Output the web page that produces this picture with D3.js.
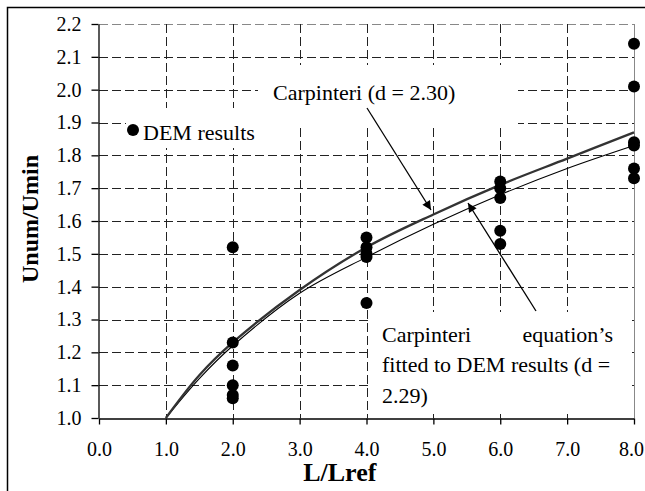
<!DOCTYPE html>
<html>
<head>
<meta charset="utf-8">
<script src="https://cdn.jsdelivr.net/npm/d3@7"></script>
<style>
  body { margin: 0; background: #fff; }
  svg, svg text { font-family: "Liberation Serif", Tinos, "Times New Roman", Times, "Noto Serif", "DejaVu Serif", serif; }
</style>
</head>
<body>
<div id="chart"></div>
<script>
// DEM results, grouped by L/Lref
var demX = [2, 2, 2, 2, 2, 2, 4, 4, 4, 4, 4, 6, 6, 6, 6, 6, 8, 8, 8, 8, 8, 8];
var demY = [1.52, 1.23, 1.16, 1.10, 1.07, 1.06,
            1.55, 1.52, 1.50, 1.49, 1.35,
            1.72, 1.70, 1.67, 1.57, 1.53,
            2.14, 2.01, 1.84, 1.83, 1.76, 1.73];

// Carpinteri curves, sampled along L/Lref
var curveX = [1, 1.5, 2, 3, 4, 5, 6, 7, 8];
var carpinteri230 = [1.00, 1.13, 1.23, 1.39, 1.52, 1.62, 1.71, 1.79, 1.87];
var carpinteri229 = [1.00, 1.12, 1.22, 1.38, 1.49, 1.59, 1.68, 1.76, 1.83];

var xTicks = [0, 1, 2, 3, 4, 5, 6, 7, 8];
var yTicks = [1.0, 1.1, 1.2, 1.3, 1.4, 1.5, 1.6, 1.7, 1.8, 1.9, 2.0, 2.1, 2.2];

var width = 645, height = 491;
var serif = '"Liberation Serif", Tinos, "Times New Roman", Times, "Noto Serif", "DejaVu Serif", serif';

var svg = d3.select('#chart').append('svg')
    .attr('width', width)
    .attr('height', height)
    .attr('font-family', serif);

var defs = svg.append('defs');
defs.append('marker')
    .attr('id', 'arrow')
    .attr('viewBox', '0 0 10 10')
    .attr('refX', 10)
    .attr('refY', 5)
    .attr('markerUnits', 'userSpaceOnUse')
    .attr('markerWidth', 12)
    .attr('markerHeight', 9)
    .attr('orient', 'auto')
    .append('path')
    .attr('d', 'M0,0L10,5L0,10Z')
    .attr('fill', '#000');

// chart frame
svg.append('rect')
    .attr('x', 7.5).attr('y', 7.5)
    .attr('width', 700).attr('height', 600)
    .attr('fill', '#fff')
    .attr('stroke', '#000')
    .attr('stroke-width', 1.5);

var x = d3.scaleLinear().domain([0, 8]).range([99, 634]);
var y = d3.scaleLinear().domain([1, 2.2]).range([418, 24]);

// grid
var grid = svg.append('g').attr('class', 'grid');
grid.selectAll('.hgrid')
    .data(yTicks.slice(1))
    .enter().append('line')
    .attr('x1', x(0)).attr('x2', x(8))
    .attr('y1', function(d) { return Math.round(y(d)) + 0.5; })
    .attr('y2', function(d) { return Math.round(y(d)) + 0.5; })
    .attr('stroke', function(d) { return d > 2.15 ? '#888' : '#222'; })
    .attr('stroke-dasharray', '9,4');
grid.selectAll('.vgrid')
    .data(xTicks.slice(1, -1))
    .enter().append('line')
    .attr('x1', function(d) { return Math.round(x(d)) + 0.5; })
    .attr('x2', function(d) { return Math.round(x(d)) + 0.5; })
    .attr('y1', y(2.2)).attr('y2', y(1))
    .attr('stroke', '#222')
    .attr('stroke-dasharray', '9,4');

// right edge of the plot area
svg.append('line')
    .attr('x1', Math.round(x(8)) + 0.5).attr('x2', Math.round(x(8)) + 0.5)
    .attr('y1', y(2.2)).attr('y2', y(1))
    .attr('stroke', '#888');

// white text boxes sit above the grid
function box(x0, y0, w, h) {
    svg.append('rect')
        .attr('x', x0).attr('y', y0)
        .attr('width', w).attr('height', h)
        .attr('fill', '#fff');
}
box(126, 108, 136, 40);
box(258, 65, 260, 63);
box(370, 312, 262, 100);

// axes
var yAxis = d3.axisLeft(y)
    .tickValues(yTicks)
    .tickFormat(d3.format('.1f'))
    .tickSize(7)
    .tickSizeOuter(0)
    .tickPadding(10);
var xAxis = d3.axisBottom(x)
    .tickValues(xTicks)
    .tickFormat(d3.format('.1f'))
    .tickSize(6)
    .tickSizeOuter(0)
    .tickPadding(17);

var gy = svg.append('g')
    .attr('transform', 'translate(' + (x(0) - 0.5) + ',0)')
    .call(yAxis);
var gx = svg.append('g')
    .attr('transform', 'translate(0,' + (y(1) + 0.5) + ')')
    .call(xAxis);

[gx, gy].forEach(function(g) {
    g.attr('font-family', serif).attr('font-size', 20);
    g.selectAll('path, line').attr('stroke', '#000').attr('stroke-width', 1.3);
    g.selectAll('text').attr('fill', '#000');
});
// last x label sits right at the frame edge
gx.selectAll('.tick:last-of-type text').attr('dx', -3);

// axis titles
svg.append('text')
    .attr('x', x(3.6)).attr('y', 481)
    .attr('text-anchor', 'middle')
    .attr('font-weight', 'bold')
    .attr('font-size', 26)
    .text('L/Lref');
svg.append('text')
    .attr('transform', 'translate(38,219) rotate(-90)')
    .attr('text-anchor', 'middle')
    .attr('font-weight', 'bold')
    .attr('font-size', 24)
    .text('Unum/Umin');

// curves
var line = d3.line()
    .x(function(d) { return x(d[0]); })
    .y(function(d) { return y(d[1]); })
    .curve(d3.curveCatmullRom.alpha(0.5));

svg.append('path')
    .attr('d', line(d3.zip(curveX, carpinteri229)))
    .attr('fill', 'none')
    .attr('stroke', '#000')
    .attr('stroke-width', 1.1);
svg.append('path')
    .attr('d', line(d3.zip(curveX, carpinteri230)))
    .attr('fill', 'none')
    .attr('stroke', '#333')
    .attr('stroke-width', 2.3);

// DEM points
svg.append('g').selectAll('circle')
    .data(d3.zip(demX, demY))
    .enter().append('circle')
    .attr('cx', function(d) { return x(d[0]); })
    .attr('cy', function(d) { return y(d[1]); })
    .attr('r', 6)
    .attr('fill', '#000');

// legend
svg.append('circle')
    .attr('cx', 133).attr('cy', 130).attr('r', 6)
    .attr('fill', '#000');
svg.append('text')
    .attr('x', 143).attr('y', 140)
    .attr('font-size', 22)
    .text('DEM results');

// annotations
svg.append('text')
    .attr('x', 273).attr('y', 100)
    .attr('font-size', 22)
    .text('Carpinteri (d = 2.30)');
svg.append('line')
    .attr('x1', 367).attr('y1', 108)
    .attr('x2', 431).attr('y2', 210)
    .attr('stroke', '#000')
    .attr('stroke-width', 1.3)
    .attr('marker-end', 'url(#arrow)');

var note = svg.append('g').attr('font-size', 22);
note.append('text').attr('x', 382).attr('y', 342).text('Carpinteri');
note.append('text').attr('x', 613).attr('y', 342).attr('text-anchor', 'end').text('equation\u2019s');
note.append('text').attr('x', 382).attr('y', 372).text('fitted to DEM results (d =');
note.append('text').attr('x', 382).attr('y', 403).text('2.29)');
svg.append('line')
    .attr('x1', 536).attr('y1', 311)
    .attr('x2', 468).attr('y2', 203)
    .attr('stroke', '#000')
    .attr('stroke-width', 1.3)
    .attr('marker-end', 'url(#arrow)');
</script>
</body>
</html>
